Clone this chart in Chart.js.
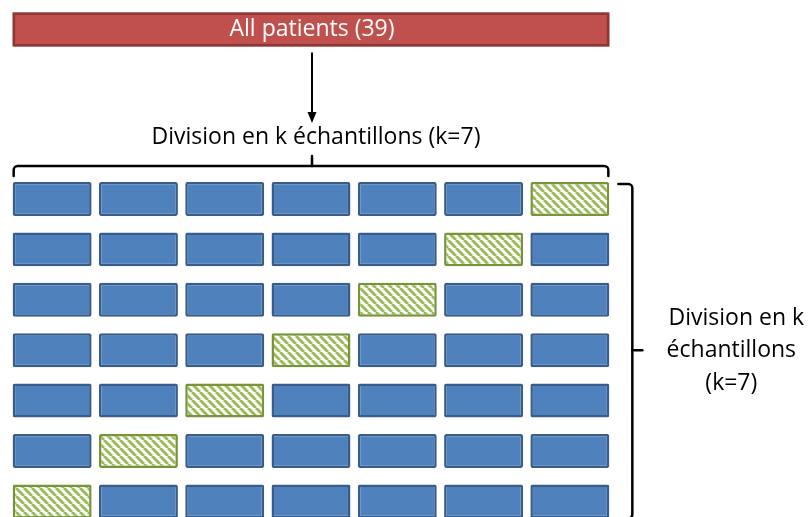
<!DOCTYPE html>
<html>
<head>
<meta charset="utf-8">
<script src="https://cdn.jsdelivr.net/npm/chart.js@4/dist/chart.umd.min.js"></script>
<style>
  html, body { margin: 0; padding: 0; background: #ffffff; }
  #wrap { width: 809px; height: 517px; position: relative; }
</style>
</head>
<body>
<div id="wrap"><canvas id="c" width="809" height="517"></canvas></div>
<script>
// ---- Data ----
const folds = ['1', '2', '3', '4', '5', '6', '7'];          // k = 7 folds (columns)
const iterations = [1, 2, 3, 4, 5, 6, 7];                   // rows (one per iteration)
const testFold = [7, 6, 5, 4, 3, 2, 1];                     // hatched (test) fold per row
const patientsLabel = 'All patients (39)';
const topLabel = 'Division en k échantillons (k=7)';
const sideLabel = ['Division en k', 'échantillons', '(k=7)'];

// ---- Styles / layout constants ----
const BLUE = '#4F81BD', BLUE_BORDER = '#385D8A';
const GREEN = '#9BBB59', GREEN_BORDER = '#77933C';
const RED = '#C0504D', RED_BORDER = '#8C3836';
const HALF = 0.337;          // half bar height in row units
const PATIENT_ROW = -2.363;  // position of the "all patients" bar on the row axis
const FONT = '23px "Open Sans", "Liberation Sans", sans-serif';

function hatch() {
  const s = 8;
  const c = document.createElement('canvas');
  c.width = s; c.height = s;
  const g = c.getContext('2d');
  g.fillStyle = '#ffffff';
  g.fillRect(0, 0, s, s);
  g.strokeStyle = GREEN;
  g.lineWidth = 3;
  g.beginPath();
  for (const x0 of [-s, 0, s]) { g.moveTo(x0, 0); g.lineTo(x0 + s, s); }
  g.stroke();
  return g.createPattern(c, 'repeat');
}
const pattern = hatch();

const datasets = iterations.map((r, i) => ({
  label: 'Iteration ' + r,
  data: folds.map(() => [r - HALF, r + HALF]),
  backgroundColor: folds.map((f, j) => (testFold[i] === j + 1 ? pattern : BLUE)),
  borderColor: folds.map((f, j) => (testFold[i] === j + 1 ? GREEN_BORDER : BLUE_BORDER)),
  borderWidth: 2.5,
  borderSkipped: false,
  borderRadius: 2,
  grouped: false,
  barPercentage: 0.915,
  categoryPercentage: 1
}));

const deco = {
  id: 'deco',
  afterDatasetsDraw(chart) {
    const { ctx } = chart;
    const ys = chart.scales.y;
    const meta = chart.getDatasetMeta(0);
    const first = meta.data[0], last = meta.data[meta.data.length - 1];
    const left = first.x - first.width / 2;
    const right = last.x + last.width / 2;
    const cx = (left + right) / 2 + 1;
    const gridTop = ys.getPixelForValue(iterations[0] - HALF);
    const gridBottom = ys.getPixelForValue(iterations[iterations.length - 1] + HALF);
    const midY = ys.getPixelForValue((iterations[0] + iterations[iterations.length - 1]) / 2);

    ctx.save();
    // All patients bar
    const rTop = ys.getPixelForValue(PATIENT_ROW - HALF);
    const rBot = ys.getPixelForValue(PATIENT_ROW + HALF);
    ctx.fillStyle = RED;
    ctx.fillRect(left, rTop, right - left, rBot - rTop);
    ctx.strokeStyle = RED_BORDER;
    ctx.lineWidth = 2.5;
    ctx.strokeRect(left + 1.25, rTop + 1.25, right - left - 2.5, rBot - rTop - 2.5);
    ctx.fillStyle = '#ffffff';
    ctx.font = FONT;
    ctx.textAlign = 'center';
    ctx.textBaseline = 'middle';
    ctx.fillText(patientsLabel, cx, (rTop + rBot) / 2);

    // Arrow
    ctx.strokeStyle = '#000000';
    ctx.fillStyle = '#000000';
    ctx.lineWidth = 2;
    ctx.beginPath();
    ctx.moveTo(cx, rBot + 6);
    ctx.lineTo(cx, gridTop - 68);
    ctx.stroke();
    ctx.beginPath();
    ctx.moveTo(cx - 4.5, gridTop - 70);
    ctx.lineTo(cx + 4.5, gridTop - 70);
    ctx.lineTo(cx, gridTop - 59);
    ctx.closePath();
    ctx.fill();

    // Top label
    ctx.fillStyle = '#000000';
    ctx.fillText(topLabel, cx + 4, gridTop - 45);

    // Top brace
    const by = gridTop - 16;
    ctx.lineWidth = 2.5;
    ctx.lineCap = 'round';
    ctx.lineJoin = 'round';
    ctx.beginPath();
    ctx.moveTo(left + 1, gridTop - 6);
    ctx.lineTo(left + 1, by + 4);
    ctx.arcTo(left + 1, by, left + 5, by, 4);
    ctx.lineTo(right - 5, by);
    ctx.arcTo(right - 1, by, right - 1, by + 4, 4);
    ctx.lineTo(right - 1, gridTop - 6);
    ctx.stroke();
    ctx.beginPath();
    ctx.moveTo(cx, by);
    ctx.lineTo(cx, by - 10);
    ctx.stroke();

    // Right brace
    const bx = right + 23;
    ctx.beginPath();
    ctx.moveTo(right + 9, gridTop + 2);
    ctx.lineTo(bx - 4, gridTop + 2);
    ctx.arcTo(bx, gridTop + 2, bx, gridTop + 6, 4);
    ctx.lineTo(bx, gridBottom - 4);
    ctx.arcTo(bx, gridBottom, bx - 4, gridBottom, 4);
    ctx.lineTo(right + 8, gridBottom);
    ctx.stroke();
    ctx.beginPath();
    ctx.moveTo(bx, midY);
    ctx.lineTo(bx + 10, midY);
    ctx.stroke();

    // Side label
    const tx = right + 122;
    ctx.fillText(sideLabel[0], tx + 5, midY - 32);
    ctx.fillText(sideLabel[1], tx, midY);
    ctx.fillText(sideLabel[2], tx, midY + 33);
    ctx.restore();
  }
};

new Chart(document.getElementById('c'), {
  type: 'bar',
  data: { labels: folds, datasets: datasets },
  options: {
    responsive: false,
    animation: false,
    layout: { padding: { left: 9, right: 196, top: 0, bottom: 0 } },
    plugins: { legend: { display: false }, tooltip: { enabled: false } },
    scales: {
      x: { display: false },
      y: { display: false, reverse: true, min: -2.948, max: 7.31 }
    }
  },
  plugins: [deco]
});
</script>
</body>
</html>
